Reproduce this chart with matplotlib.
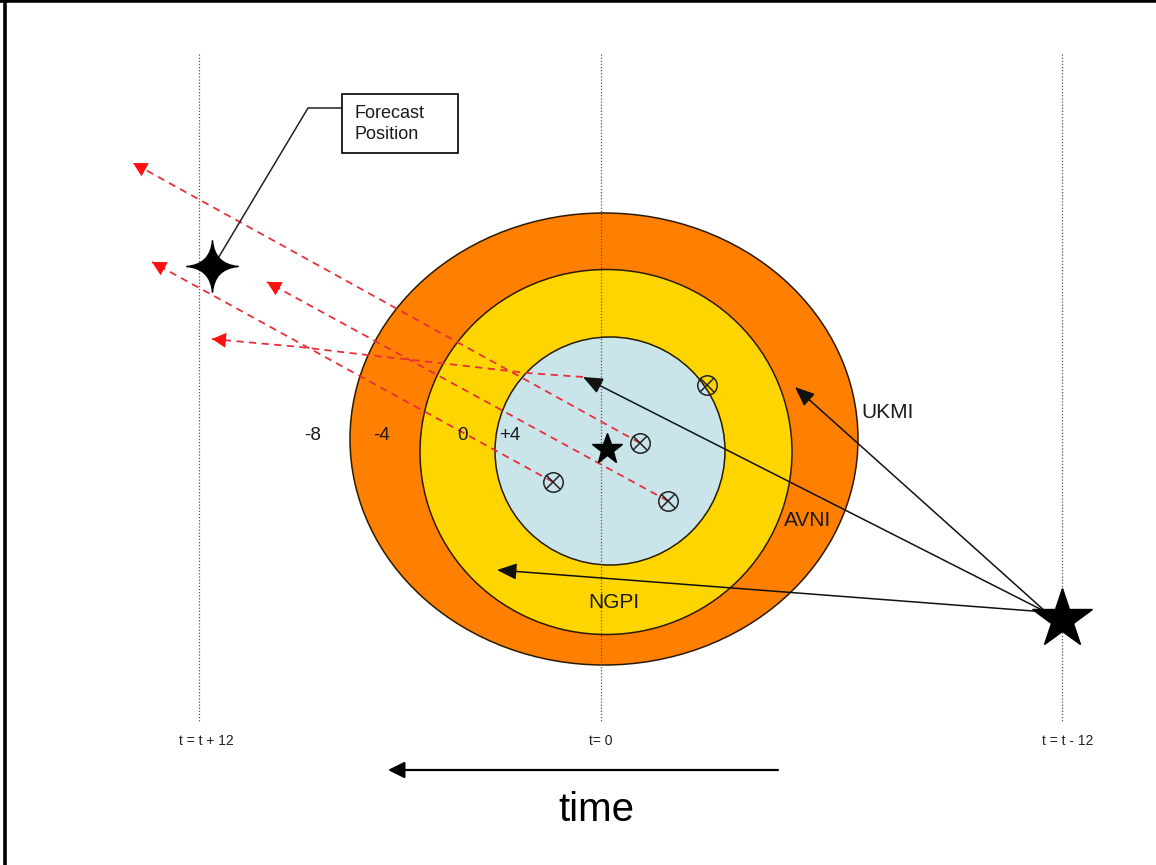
import matplotlib
matplotlib.use("Agg")
import matplotlib.pyplot as plt
from matplotlib.patches import Ellipse, Rectangle
from matplotlib.path import Path
import numpy as np

plt.rcParams['font.family'] = ['Liberation Sans', 'DejaVu Sans']

# ---- data (diagram coordinates in pixels, y downwards) ----
ring_names = ["UKMI", "AVNI", "NGPI"]
ring_colors = ["#FF7F00", "#FFD500", "#C9E5EA"]
ring_centers = [(604, 439), (606, 452), (610, 451)]
ring_widths = [508, 372, 230]
ring_heights = [452, 365, 228]

time_lines_x = [199, 601, 1062]
time_labels = ["t = t + 12", "t= 0", "t = t - 12"]
time_label_x = [206, 601, 1068]

offset_labels = ["-8", "-4", "0", "+4"]
offset_label_x = [313, 381, 463, 510]
offset_label_y = 436

model_label_pos = [(888, 412), (808, 520), (614, 603)]
model_arrow_tips = [(795, 387), (583, 377), (497, 570)]
model_arrow_tail = (1046, 612)

member_x = [640, 553, 668, 707]
member_y = [443, 482, 501, 385]

track_starts = [(640, 443), (553, 482), (668, 501)]
track_tips = [(133, 163), (152, 262), (267, 282)]
curve_x = [583, 527, 440, 367, 300, 212]
curve_y = [377, 373, 363, 355, 347, 339]

current_star = (607, 449)
origin_star = (1062, 619)
forecast_star = (212, 266)

fig = plt.figure(figsize=(11.56, 8.65), dpi=100)
ax = fig.add_axes([0, 0, 1, 1])
ax.set_xlim(0, 1156)
ax.set_ylim(865, 0)
ax.axis('off')

# border
fig.add_artist(plt.Line2D([0.0042, 0.0042], [0, 1], color='black', lw=2.6, transform=fig.transFigure))
fig.add_artist(plt.Line2D([0, 1], [0.9985, 0.9985], color='black', lw=2.6, transform=fig.transFigure))

# rings
for i, (c, w, h, col) in enumerate(zip(ring_centers, ring_widths, ring_heights, ring_colors)):
    ax.add_patch(Ellipse(c, w, h, facecolor=col, edgecolor='#2a1a00', lw=1.1, zorder=1 + i))

# vertical time lines
for x in time_lines_x:
    ax.plot([x, x], [54, 722], color='#555555', lw=0.9, ls=(0, (1, 1.5)), zorder=4)
for x, lab in zip(time_label_x, time_labels):
    ax.text(x, 741, lab, ha='center', va='center', fontsize=10, color='#222222', zorder=8)

# red dashed tracks
red = '#E8303C'
def head(tip, frm):
    tip = np.array(tip, float); frm = np.array(frm, float)
    d = frm - tip; d /= np.hypot(*d)
    ax.annotate('', xy=tuple(tip), xytext=tuple(tip + d * 12),
                arrowprops=dict(arrowstyle='-|>,head_length=0.5,head_width=0.27',
                                color='#FF1010', lw=0, shrinkA=0, shrinkB=0,
                                mutation_scale=20), zorder=6)

for s, t in zip(track_starts, track_tips):
    ax.plot([s[0], t[0]], [s[1], t[1]], color=red, lw=1.3, ls=(0, (4, 3)), zorder=5)
    head(t, s)
ax.plot(curve_x, curve_y, color=red, lw=1.3, ls=(0, (4, 3)), zorder=5)
head((curve_x[-1], curve_y[-1]), (curve_x[-2], curve_y[-2]))

# black model arrows
for tip in model_arrow_tips:
    ax.annotate('', xy=tip, xytext=model_arrow_tail,
                arrowprops=dict(arrowstyle='-|>,head_length=0.6,head_width=0.25',
                                color='#111111', lw=1.1, shrinkA=0, shrinkB=0,
                                mutation_scale=20), zorder=6)
for (x, y), lab in zip(model_label_pos, ring_names):
    ax.text(x, y, lab, ha='center', va='center', fontsize=15, color='#1a1a1a', zorder=8)

# ensemble members
ax.plot(member_x, member_y, 'o', ms=14, mfc='none', mec='#222222', mew=1.1, ls='none', zorder=7)
ax.plot(member_x, member_y, 'x', ms=10, mec='#222222', mew=1.1, ls='none', zorder=7)

# stars
ax.plot(*current_star, marker='*', ms=23, color='black', zorder=7)
ax.plot(*origin_star, marker='*', ms=45, color='black', zorder=7)
c = 0.08
star4_path = Path(
    [(0, 1), (c, c), (1, 0), (c, -c), (0, -1), (-c, -c), (-1, 0), (-c, c), (0, 1), (0, 1)],
    [Path.MOVETO, Path.CURVE3, Path.CURVE3, Path.CURVE3, Path.CURVE3,
     Path.CURVE3, Path.CURVE3, Path.CURVE3, Path.CURVE3, Path.CLOSEPOLY])
ax.plot(*forecast_star, marker=star4_path, ms=37, color='black', zorder=7)

# offset labels
for x, lab in zip(offset_label_x, offset_labels):
    ax.text(x, offset_label_y, lab, ha='center', va='center', fontsize=13.5, color='#1a1a1a', zorder=8)

# forecast position callout
ax.add_patch(Rectangle((342, 94), 116, 59, facecolor='white', edgecolor='black', lw=1.2, zorder=8))
ax.text(355, 124, "Forecast\nPosition", ha='left', va='center', fontsize=13, linespacing=1.3, color='#1a1a1a', zorder=9)
ax.plot([342, 308, 217], [108, 108, 260], color='#222222', lw=1.1, zorder=6)

# time arrow
ax.annotate('', xy=(388, 770), xytext=(778, 770),
            arrowprops=dict(arrowstyle='-|>,head_length=0.5,head_width=0.25',
                            color='black', lw=1.6, shrinkA=0, shrinkB=0, mutation_scale=20))
ax.text(596, 810, "time", ha='center', va='center', fontsize=29, color='black')

fig.savefig("out.png", dpi=100)
